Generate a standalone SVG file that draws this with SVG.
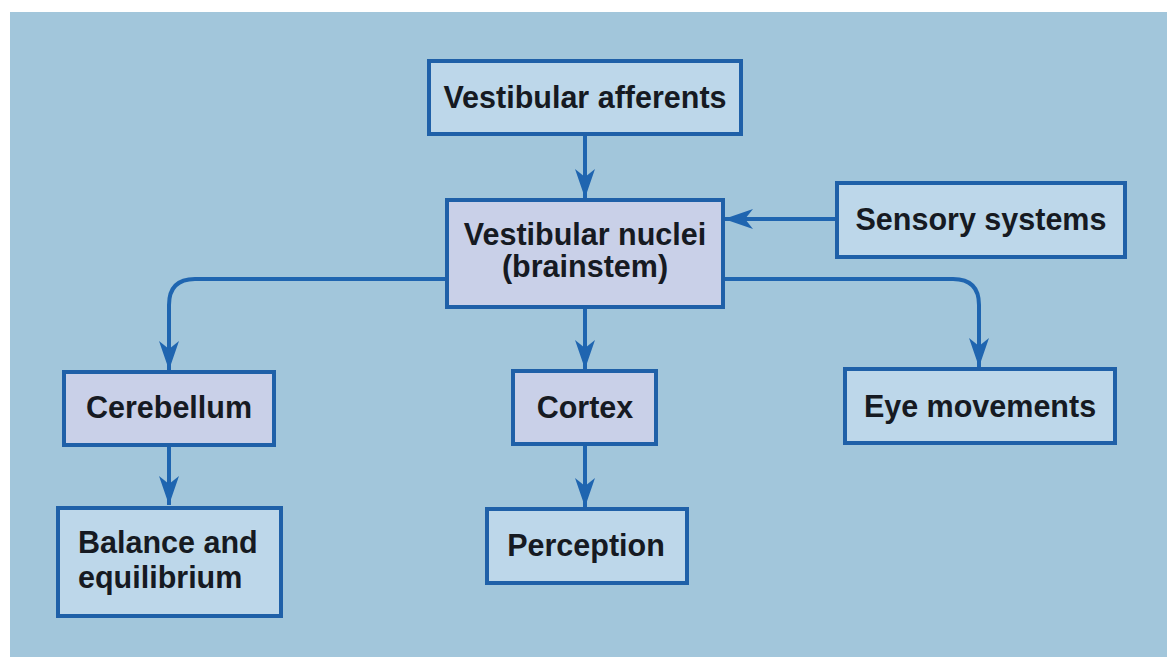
<svg xmlns="http://www.w3.org/2000/svg" width="1167" height="657" viewBox="0 0 1167 657">
<defs>
<style>
.bg{fill:#a2c6db}
.box{stroke:#1f60a8;stroke-width:4}
.lb{fill:#bdd7ea}
.lv{fill:#c9d0e8}
.t{font-family:"Liberation Sans",Arial,sans-serif;font-weight:bold;font-size:30.5px;fill:#161a22}
.c{text-anchor:middle}
.ln{fill:none;stroke:#1f65b0;stroke-width:4}
</style>
<marker id="ah" markerUnits="userSpaceOnUse" viewBox="-31 -11 32 22" refX="0" refY="0" markerWidth="32" markerHeight="22" orient="auto">
<path d="M0,0 L-29,-10 L-21,0 L-29,10 Z" fill="#1f65b0"/>
</marker>
</defs>
<rect x="0" y="0" width="1167" height="657" fill="#ffffff"/>
<rect class="bg" x="10" y="12" width="1157" height="645"/>
<g id="connectors">
<path class="ln" d="M585,135 L585,198" marker-end="url(#ah)"/>
<path class="ln" d="M837,219 L724,219" marker-end="url(#ah)"/>
<path class="ln" d="M447,279 L195,279 Q169,279 169,305 L169,370" marker-end="url(#ah)"/>
<path class="ln" d="M722,279 L953,279 Q979,279 979,305 L979,367" marker-end="url(#ah)"/>
<path class="ln" d="M585,308 L585,369" marker-end="url(#ah)"/>
<path class="ln" d="M169,446 L169,505" marker-end="url(#ah)"/>
<path class="ln" d="M585,445 L585,507" marker-end="url(#ah)"/>
</g>
<g id="vestibular-afferents">
<rect class="box lb" x="429" y="61" width="312" height="73"/>
<text class="t c" x="585" y="108">Vestibular afferents</text>
</g>
<g id="vestibular-nuclei">
<rect class="box lv" x="447" y="200" width="276" height="107"/>
<text class="t c" x="585" y="245">Vestibular nuclei</text>
<text class="t c" x="585" y="277">(brainstem)</text>
</g>
<g id="sensory-systems">
<rect class="box lb" x="837" y="183" width="288" height="74"/>
<text class="t c" x="981" y="230">Sensory systems</text>
</g>
<g id="cerebellum">
<rect class="box lv" x="64" y="372" width="210" height="73"/>
<text class="t c" x="169" y="418">Cerebellum</text>
</g>
<g id="cortex">
<rect class="box lv" x="513" y="371" width="143" height="73"/>
<text class="t c" x="585" y="418">Cortex</text>
</g>
<g id="eye-movements">
<rect class="box lb" x="845" y="369" width="270" height="74"/>
<text class="t c" x="980" y="417">Eye movements</text>
</g>
<g id="balance">
<rect class="box lb" x="58" y="508" width="223" height="108"/>
<text class="t" x="78" y="553">Balance and</text>
<text class="t" x="78" y="588">equilibrium</text>
</g>
<g id="perception">
<rect class="box lb" x="487" y="509" width="200" height="74"/>
<text class="t c" x="586" y="556">Perception</text>
</g>
</svg>
